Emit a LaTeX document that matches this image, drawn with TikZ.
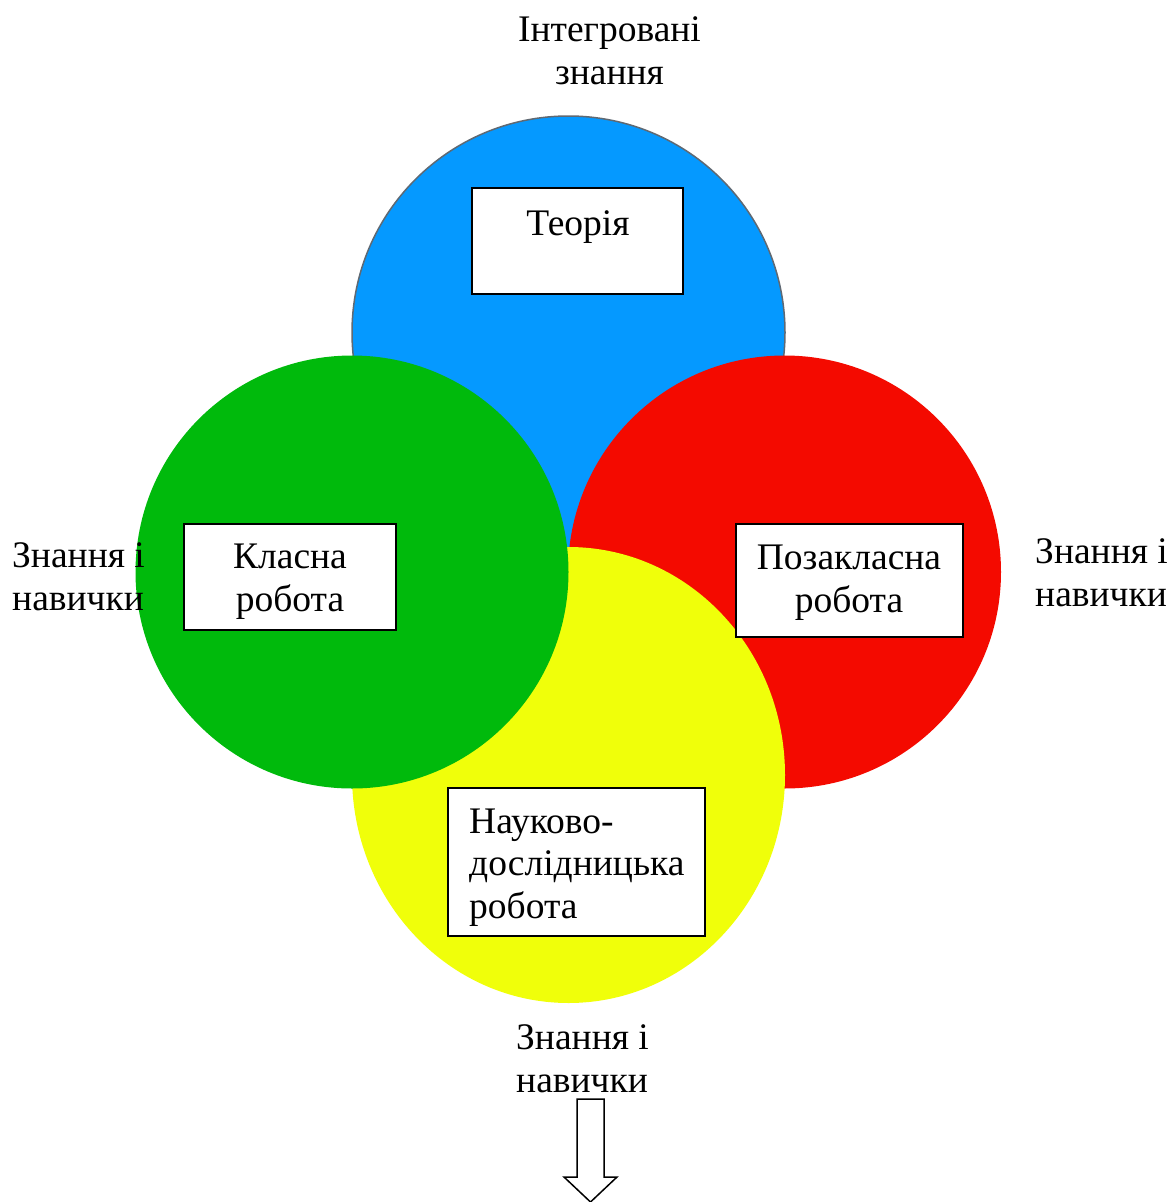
\documentclass[tikz,border=0pt]{standalone}
\usepackage{fontspec}
\setmainfont{Liberation Serif}
\definecolor{cblue}{RGB}{5,153,255}
\definecolor{cgreen}{RGB}{0,186,12}
\definecolor{cred}{RGB}{244,10,0}
\definecolor{cyellow}{RGB}{240,255,10}
\definecolor{cedge}{RGB}{95,105,115}
\begin{document}
\begin{tikzpicture}[x=1pt,y=-1pt,
  txt/.style={inner sep=0pt, font=\fontsize{37.5}{42.5}\selectfont},
  whitebox/.style={draw=black, line width=2pt, fill=white, inner sep=0pt}]
\useasboundingbox (0,0) rectangle (1172,1202);
% circles
\fill[cblue, draw=cedge, line width=1.5pt] (568.5,332.5) circle [radius=216.5];
\fill[cred] (784.5,572) circle [radius=216.5];
\fill[cyellow] (568.5,775) ellipse [x radius=216.5, y radius=228];
\fill[cgreen] (352,572) circle [radius=216.5];
% boxes
\node[whitebox, minimum width=211pt, minimum height=106pt] (teo) at (577.5,241) {};
\node[whitebox, minimum width=212pt, minimum height=106pt] (klas) at (289.5,577) {};
\node[whitebox, minimum width=227pt, minimum height=113pt] (poza) at (849.5,580.5) {};
\node[whitebox, minimum width=257pt, minimum height=148pt] (nauk) at (576.5,862) {};
% box texts (base = baseline of last line)
\node[txt, anchor=base] (teot) at (578,235) {Теорія};
\node[txt, anchor=base, align=center] (klast) at (290,611) {Класна\\робота};
\node[txt, anchor=base, align=center] (pozat) at (849,612) {Позакласна\\робота};
\node[txt, anchor=base west, align=left] (naukt) at (469,918) {Науково-\\дослідницька\\робота};
% outer labels
\node[txt, anchor=base, align=center] (top) at (609.5,84) {Інтегровані\\знання};
\node[txt, anchor=base west, align=left] (left) at (12,610) {Знання і\\навички};
\node[txt, anchor=base west, align=left] (right) at (1035,606) {Знання і\\навички};
\node[txt, anchor=base west, align=left] (bottom) at (516,1092) {Знання і\\навички};
% block arrow
\draw[black, line width=1.5pt, fill=white, line join=miter]
  (577,1099) -- (604,1099) -- (604,1177) -- (617,1177) -- (590.5,1202)
  -- (564,1177) -- (577,1177) -- cycle;
\end{tikzpicture}
\end{document}
